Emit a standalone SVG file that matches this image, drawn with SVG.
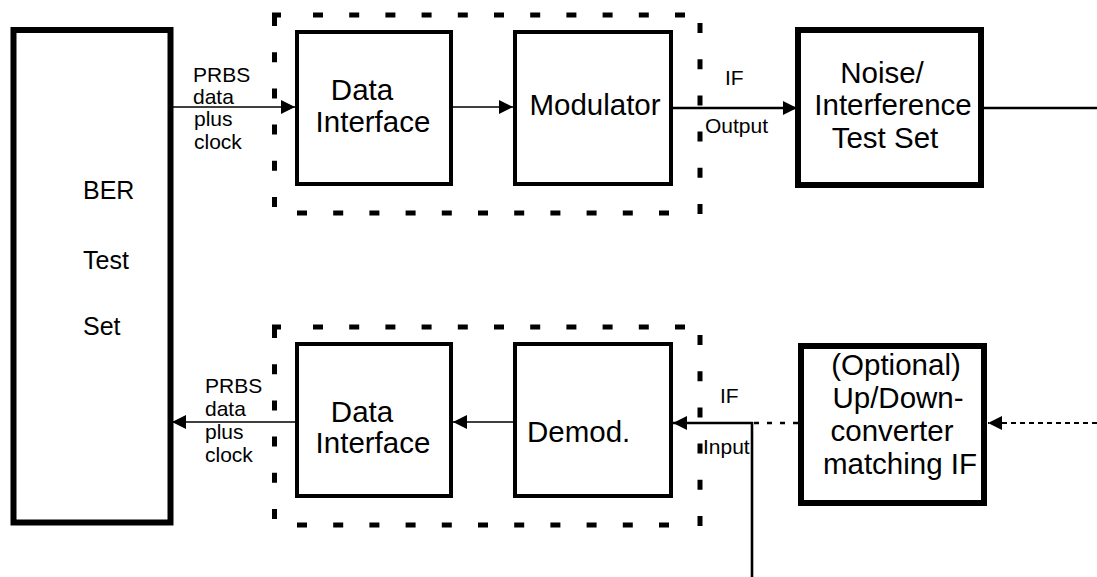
<svg xmlns="http://www.w3.org/2000/svg" width="1097" height="577" viewBox="0 0 1097 577">
  <defs>
    <marker id="arrow" viewBox="0 0 14 14" refX="14" refY="7" markerWidth="14" markerHeight="14" markerUnits="userSpaceOnUse" orient="auto">
      <path d="M0,0 L14,7 L0,14 Z" fill="#000"/>
    </marker>
  </defs>
  <style>
    text { font-family: "Liberation Sans", Arial, sans-serif; fill: #000; }
    .big { font-size: 29.5px; }
    .mid { font-size: 25px; }
    .small { font-size: 21px; }
    .box { fill: #fff; stroke: #000; stroke-width: 4; }
    .heavy { fill: #fff; stroke: #000; stroke-width: 6; }
    .frame { fill: none; stroke: #000; stroke-width: 5; stroke-dasharray: 10 26.2; }
    .corner { fill: none; stroke: #000; stroke-width: 5; }
    .thin { fill: none; stroke: #000; stroke-width: 1.6; }
    .wire { fill: none; stroke: #000; stroke-width: 2.6; }
    .dash { fill: none; stroke: #000; stroke-width: 2.4; stroke-dasharray: 5 8; }
    .dots { fill: none; stroke: #000; stroke-width: 2.2; stroke-dasharray: 5 4; }
  </style>

  <!-- dashed enclosures around the modem halves -->
  <g id="enclosure-tx">
    <path class="frame" d="M313,15 H690"/>
    <path class="frame" d="M274.5,16 V212"/>
    <path class="frame" d="M297,213 H675"/>
    <path class="frame" d="M700,23 V215"/>
    <path class="corner" d="M272,15 H281"/>
  </g>
  <g id="enclosure-rx" transform="translate(0,312)">
    <path class="frame" d="M313,15 H690"/>
    <path class="frame" d="M274.5,16 V212"/>
    <path class="frame" d="M297,213 H675"/>
    <path class="frame" d="M700,23 V215"/>
    <path class="corner" d="M272,15 H281"/>
  </g>

  <!-- connectors -->
  <g id="connectors">
    <line class="thin" x1="173" y1="107" x2="295" y2="107" marker-end="url(#arrow)"/>
    <line class="thin" x1="453" y1="107" x2="513" y2="107" marker-end="url(#arrow)"/>
    <line class="wire" x1="673" y1="108" x2="797" y2="108" marker-end="url(#arrow)"/>
    <line class="wire" x1="984" y1="108" x2="1097" y2="108"/>
    <line class="thin" x1="295" y1="422" x2="172" y2="422" marker-end="url(#arrow)"/>
    <line class="thin" x1="513" y1="422" x2="453" y2="422" marker-end="url(#arrow)"/>
    <line class="wire" x1="753" y1="423" x2="673" y2="423" marker-end="url(#arrow)"/>
    <line class="wire" x1="752" y1="422" x2="752" y2="577"/>
    <line class="dash" x1="754" y1="423" x2="798" y2="423"/>
    <line class="dots" x1="1097" y1="423" x2="988" y2="423" marker-end="url(#arrow)"/>
  </g>

  <!-- BER test set -->
  <g id="ber">
    <rect class="heavy" x="13.5" y="30" width="157" height="492.5"/>
    <text class="mid" x="83" y="199">BER</text>
    <text class="mid" x="83" y="269">Test</text>
    <text class="mid" x="83" y="335">Set</text>
  </g>

  <!-- transmit chain -->
  <g id="data-interface-tx">
    <rect class="box" x="297" y="32" width="154" height="152"/>
    <text class="big" x="362" y="100" text-anchor="middle">Data</text>
    <text class="big" x="373" y="132" text-anchor="middle">Interface</text>
  </g>
  <g id="modulator">
    <rect class="box" x="515" y="32" width="156" height="152"/>
    <text class="big" x="595" y="115" text-anchor="middle">Modulator</text>
  </g>
  <g id="noise-test-set">
    <rect class="heavy" x="798" y="30" width="183" height="155"/>
    <text class="big" x="882" y="83" text-anchor="middle">Noise/</text>
    <text class="big" x="893" y="115" text-anchor="middle">Interference</text>
    <text class="big" x="885" y="148" text-anchor="middle">Test Set</text>
  </g>

  <!-- receive chain -->
  <g id="data-interface-rx">
    <rect class="box" x="297" y="344" width="154" height="152"/>
    <text class="big" x="362" y="422" text-anchor="middle">Data</text>
    <text class="big" x="373" y="453" text-anchor="middle">Interface</text>
  </g>
  <g id="demodulator">
    <rect class="box" x="515" y="344" width="156" height="152"/>
    <text class="big" x="527" y="442">Demod.</text>
  </g>
  <g id="up-down-converter">
    <rect class="heavy" x="801" y="346" width="183" height="157"/>
    <text class="big" x="896" y="375" text-anchor="middle">(Optional)</text>
    <text class="big" x="898" y="408" text-anchor="middle">Up/Down-</text>
    <text class="big" x="892" y="441" text-anchor="middle">converter</text>
    <text class="big" x="900" y="474" text-anchor="middle">matching IF</text>
  </g>

  <!-- signal labels -->
  <g id="labels">
    <text class="small" x="193" y="82">PRBS</text>
    <text class="small" x="193" y="104">data</text>
    <text class="small" x="194" y="126">plus</text>
    <text class="small" x="194" y="149">clock</text>
    <text class="small" x="205" y="393">PRBS</text>
    <text class="small" x="205" y="416">data</text>
    <text class="small" x="205" y="439">plus</text>
    <text class="small" x="205" y="462">clock</text>
    <text class="small" x="725" y="85">IF</text>
    <text class="small" x="705" y="133">Output</text>
    <text class="small" x="720" y="403">IF</text>
    <text class="small" x="703" y="454">Input</text>
  </g>
</svg>
